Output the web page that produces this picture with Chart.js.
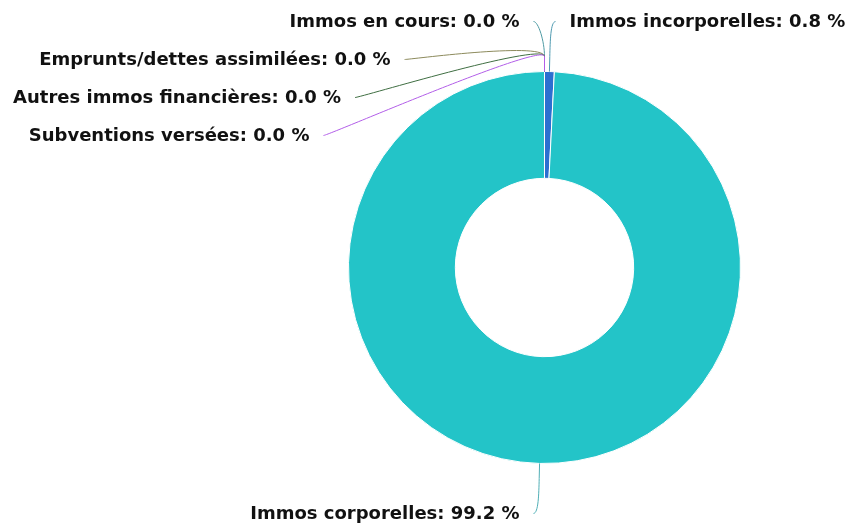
<!DOCTYPE html>
<html>
<head>
<meta charset="utf-8">
<title>Immobilisations</title>
<script src="https://cdn.jsdelivr.net/npm/chart.js@4/dist/chart.umd.min.js"></script>
<style>
  body { margin: 0; background: #fff; }
  canvas { display: block; }
</style>
</head>
<body>
<canvas id="pieChart" width="852" height="526"></canvas>
<script>
// data (percent of total)
const categories = ['Immos incorporelles', 'Immos corporelles', 'Immos en cours',
  'Emprunts/dettes assimilées', 'Autres immos financières', 'Subventions versées'];
const shares = [0.8, 99.2, 0.0, 0.0, 0.0, 0.0];
const sliceColors = ['#2C6FD0', '#23C4C8', '#3E9FA8', '#8C8A5C', '#3F6E42', '#B25EE8'];
const lineColors = ['#4F9AB0', '#4FAEB5', '#4E9AA3', '#8C8A5C', '#3F6E42', '#B25EE8'];

// labels outside the ring with soft connectors
const outLabels = {
  id: 'outLabels',
  afterDatasetsDraw(chart) {
    const ctx = chart.ctx;
    const arcs = chart.getDatasetMeta(0).data;
    const spacing = 38, gap = 14, minOff = 11;
    let items = arcs.map((arc, i) => {
      const p = arc.getProps(['x', 'y', 'startAngle', 'endAngle', 'outerRadius'], true);
      const mid = (p.startAngle + p.endAngle) / 2;
      const t = mid + Math.PI / 2; // clockwise from top
      const rx = p.outerRadius + 66, ry = p.outerRadius + 50;
      return { i, p, mid, left: t > Math.PI, rx, ry, y: p.y - ry * Math.cos(t) };
    });

    [true, false].forEach(side => {
      const list = items.filter(it => it.left === side).sort((a, b) => a.y - b.y || a.i - b.i);
      let last = -Infinity;
      list.forEach(it => {
        it.y = Math.max(it.y, last + spacing);
        last = it.y;
      });
    });

    ctx.save();
    ctx.font = 'bold 18px "DejaVu Sans"';
    ctx.textBaseline = 'middle';
    items.forEach(it => {
      const {p, mid} = it;
      const dy = (it.y - p.y) / it.ry;
      let off = it.rx * Math.sqrt(Math.max(0, 1 - dy * dy));
      off = Math.max(off, minOff);
      const x = p.x + (it.left ? -off : off);
      const y = it.y;
      const touch = { x: p.x + Math.cos(mid) * p.outerRadius, y: p.y + Math.sin(mid) * p.outerRadius };
      const brk = { x: p.x + Math.cos(mid) * (p.outerRadius + 15), y: p.y + Math.sin(mid) * (p.outerRadius + 15) };

      ctx.beginPath();
      ctx.moveTo(x, y);
      ctx.bezierCurveTo(x + (it.left ? 5 : -5), y, 2 * brk.x - touch.x, 2 * brk.y - touch.y, brk.x, brk.y);
      ctx.lineTo(touch.x, touch.y);
      ctx.strokeStyle = lineColors[it.i];
      ctx.lineWidth = 1;
      ctx.stroke();

      const text = categories[it.i] + ': ' + shares[it.i].toFixed(1) + ' %';
      ctx.textAlign = it.left ? 'right' : 'left';
      const tx = x + (it.left ? -gap : gap);
      ctx.fillStyle = '#111';
      ctx.fillText(text, tx, y + 1);
    });
    ctx.restore();
  }
};

const ctx = document.getElementById('pieChart').getContext('2d');
const pieChart = new Chart(ctx, {
  type: 'doughnut',
  data: {
    labels: categories,
    datasets: [{
      data: shares,
      backgroundColor: sliceColors,
      borderColor: '#fff',
      borderWidth: 1
    }]
  },
  options: {
    responsive: false,
    animation: false,
    cutout: '45.5%',
    layout: { padding: { left: 348, right: 111, top: 71, bottom: 62 } },
    plugins: {
      legend: { display: false },
      tooltip: { enabled: false }
    }
  },
  plugins: [outLabels]
});
</script>
</body>
</html>
